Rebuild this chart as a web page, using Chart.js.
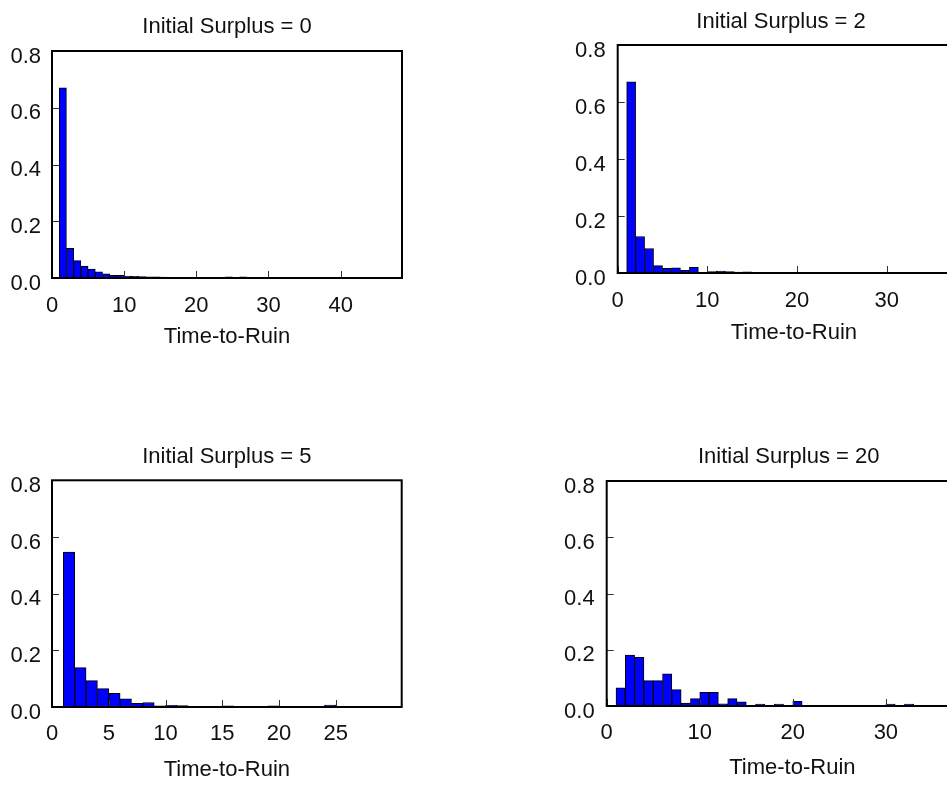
<!DOCTYPE html>
<html>
<head>
<meta charset="utf-8">
<script src="https://cdn.jsdelivr.net/npm/chart.js@4.4.1/dist/chart.umd.min.js"></script>
<style>
    html, body { margin: 0; padding: 0; background: #fff; width: 947px; height: 786px; overflow: hidden; }
    canvas { position: absolute; }
</style>
</head>
<body>
<canvas id="c0"></canvas>
<canvas id="c1"></canvas>
<canvas id="c2"></canvas>
<canvas id="c3"></canvas>
<script>
// proportion of ruins falling in each one-period bin, starting at time 1
const surplus0 = [0.670, 0.105, 0.061, 0.042, 0.031, 0.022, 0.015, 0.009, 0.009, 0.007,
                  0.006, 0.005, 0.004, 0.004, 0.003, 0.002, 0.002, 0.001, 0.001, 0.001,
                  0.001, 0.002, 0.001, 0.004, 0.002, 0.004, 0.001, 0.001, 0.001, 0.001,
                  0.001, 0.001, 0.001, 0.001, 0.001, 0.001, 0.001, 0.001, 0.001, 0.001,
                  0.001, 0.002, 0.002];
const surplus2 = [0.671, 0.128, 0.086, 0.026, 0.016, 0.018, 0.009, 0.020, 0.002, 0.005,
                  0.007, 0.005, 0.003, 0.004, 0.002, 0.001, 0.001, 0.001, 0.002, 0.001,
                  0.001, 0.001, 0.002, 0.001, 0.001, 0.001, 0.001, 0.001, 0.001, 0.001,
                  0.002, 0.002, 0.001];
const surplus5 = [0.547, 0.139, 0.093, 0.065, 0.048, 0.029, 0.013, 0.016, 0.004, 0.006,
                  0.005, 0.002, 0.001, 0.002, 0.004, 0.002, 0.001, 0.002, 0.004, 0.001,
                  0.002, 0.001, 0.001, 0.007, 0.001, 0.002, 0.001];
const surplus20 = [0.065, 0.181, 0.173, 0.090, 0.090, 0.114, 0.058, 0.010, 0.026, 0.049,
                   0.049, 0.008, 0.026, 0.015, 0.001, 0.007, 0.001, 0.007, 0.001, 0.017,
                   0, 0, 0, 0, 0, 0, 0, 0, 0, 0.007,
                   0, 0.007, 0.001];

const titles = ['Initial Surplus = 0', 'Initial Surplus = 2', 'Initial Surplus = 5', 'Initial Surplus = 20'];
const seriesList = [surplus0, surplus2, surplus5, surplus20];
const xMaxes = [48.5, 39.3, 30.8, 39.9];
const xTickList = [[0, 10, 20, 30, 40], [0, 10, 20, 30], [0, 5, 10, 15, 20, 25], [0, 10, 20, 30]];
const yTicks = [0, 0.2, 0.4, 0.6, 0.8];
const xLabel = 'Time-to-Ruin';

// where each little chart sits on the page; rightSpace only shifts the title centre
const layouts = [
    { left: 0,   top: 0,   width: 420, height: 358, padLeft: 0,    padRight: 18,   yWidth: 52, rightSpace: 0,    fullTitle: false, yPad: 11, tTop: 13.3, tBottom: 11.3, tickPad: 15,   axisPad: 8.3 },
    { left: 540, top: 0,   width: 460, height: 353, padLeft: 22.7, padRight: 0.7,  yWidth: 55, rightSpace: 29.3, fullTitle: true,  yPad: 12, tTop: 8.3,  tBottom: 10.3, tickPad: 14.6, axisPad: 6.5 },
    { left: 0,   top: 420, width: 420, height: 367, padLeft: 0,    padRight: 18.3, yWidth: 52, rightSpace: 0,    fullTitle: false, yPad: 11, tTop: 23.3, tBottom: 10.6, tickPad: 13.8, axisPad: 4 },
    { left: 540, top: 420, width: 486, height: 366, padLeft: 11.7, padRight: 0.3,  yWidth: 55, rightSpace: 47.7, fullTitle: true,  yPad: 12, tTop: 23.3, tBottom: 11.3, tickPad: 13.8, axisPad: 4.8 }
];

Chart.defaults.font.family = '"Liberation Sans", Arial, sans-serif';
Chart.defaults.font.size = 22;
Chart.defaults.color = '#111';

// box around the plot plus short inward tick marks
const frame = {
    id: 'frame',
    afterDatasetsDraw(chart) {
        const { ctx, chartArea: a, scales: { x, y } } = chart;
        ctx.save();
        ctx.strokeStyle = '#333';
        ctx.lineWidth = 1;
        ctx.beginPath();
        x.ticks.forEach(t => {
            const px = Math.round(x.getPixelForValue(t.value)) + 0.5;
            ctx.moveTo(px, a.bottom);
            ctx.lineTo(px, a.bottom - 7);
        });
        y.ticks.forEach(t => {
            const py = Math.round(y.getPixelForValue(t.value)) + 0.5;
            ctx.moveTo(a.left, py);
            ctx.lineTo(a.left + 7, py);
        });
        ctx.stroke();
        ctx.strokeStyle = '#000';
        ctx.lineWidth = 2;
        ctx.strokeRect(a.left, a.top, a.right - a.left, a.bottom - a.top);
        ctx.restore();
    }
};

function drawPanel(i) {
    const lay = layouts[i];
    const canvas = document.getElementById('c' + i);
    canvas.width = lay.width;
    canvas.height = lay.height;
    canvas.style.left = lay.left + 'px';
    canvas.style.top = lay.top + 'px';
    canvas.style.width = lay.width + 'px';
    canvas.style.height = lay.height + 'px';

    const points = seriesList[i].map((v, k) => ({ x: k + 1.5, y: v }));

    const scales = {
        x: {
            type: 'linear',
            min: 0,
            max: xMaxes[i],
            offset: false,
            grid: { display: false, drawTicks: false, offset: false },
            border: { display: false },
            afterBuildTicks(scale) { scale.ticks = xTickList[i].map(v => ({ value: v })); },
            ticks: { padding: lay.tickPad, maxRotation: 0, autoSkip: false },
            title: { display: true, text: xLabel, font: { size: 22 }, padding: { top: 0, bottom: lay.axisPad } },
            afterFit(scale) { scale.height = 80; }
        },
        y: {
            min: 0,
            max: 0.8,
            grid: { display: false, drawTicks: false },
            border: { display: false },
            afterBuildTicks(scale) { scale.ticks = yTicks.map(v => ({ value: v })); },
            ticks: {
                padding: lay.yPad,
                labelOffset: 5.5,
                callback: v => Number(v).toFixed(1)
            },
            afterFit(scale) { scale.width = lay.yWidth; }
        }
    };
    if (lay.rightSpace > 0) {
        // empty box on the right so the full-width title lines up with the original
        scales.spacer = {
            axis: 'y',
            position: 'right',
            min: 0,
            max: 1,
            grid: { display: false, drawTicks: false },
            border: { display: false },
            ticks: { display: false },
            afterFit(scale) { scale.width = lay.rightSpace; }
        };
    }

    new Chart(canvas.getContext('2d'), {
        type: 'bar',
        data: {
            datasets: [{
                data: points,
                xAxisID: 'x',
                yAxisID: 'y',
                backgroundColor: '#0000ff',
                borderColor: '#000',
                borderWidth: 1,
                borderSkipped: false,
                barPercentage: 1,
                categoryPercentage: 1
            }]
        },
        options: {
            responsive: false,
            devicePixelRatio: 1,
            animation: false,
            layout: { padding: { left: lay.padLeft, right: lay.padRight, top: 0, bottom: 0 } },
            plugins: {
                legend: { display: false },
                tooltip: { enabled: false },
                title: {
                    display: true,
                    text: titles[i],
                    fullSize: lay.fullTitle,
                    color: '#111',
                    font: { size: 22, weight: 'normal' },
                    padding: { top: lay.tTop, bottom: lay.tBottom }
                }
            },
            scales: scales
        },
        plugins: [frame]
    });
}

for (let i = 0; i < 4; i++) {
    drawPanel(i);
}
</script>
</body>
</html>
